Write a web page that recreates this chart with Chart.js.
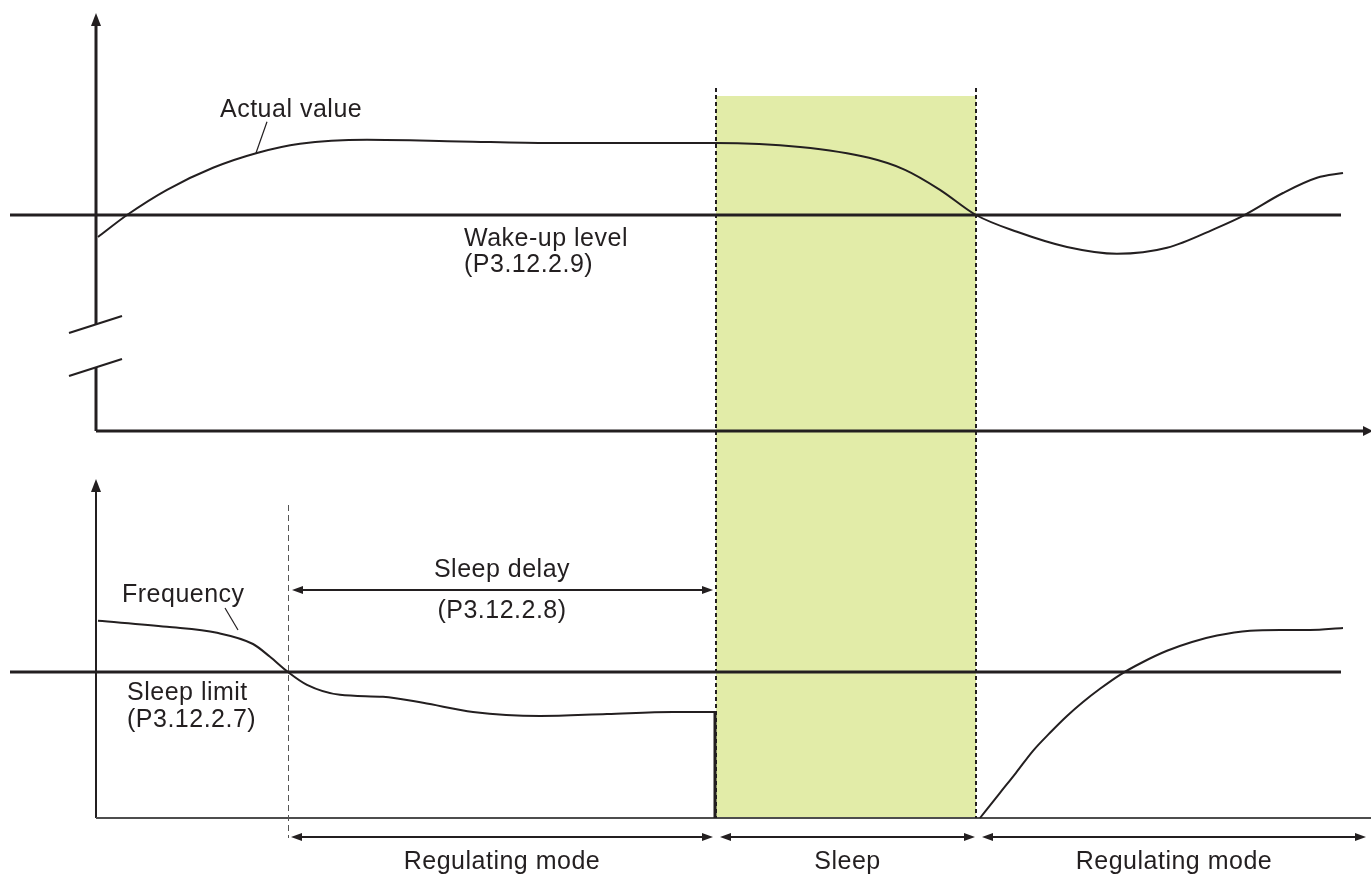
<!DOCTYPE html>
<html>
<head>
<meta charset="utf-8">
<script src="https://cdn.jsdelivr.net/npm/chart.js@4"></script>
<style>
  html, body { margin: 0; padding: 0; background: #fff; }
  #wrap { width: 1371px; height: 875px; }
</style>
</head>
<body>
<div id="wrap"><canvas id="sleepChart" width="1371" height="875"></canvas></div>
<script>
// time in s, actual value in %, frequency in Hz
const actualTime  = [0.2, 3.1, 7.1, 11.7, 16.1, 20.4, 27.1, 36.4, 45.4, 54.4, 61.9, 70.4, 77.3, 80.9, 84.4, 88.0, 92.1, 97.1, 102.1, 107.1, 112.1, 114.7, 118.7, 122.1, 124.7];
const actualValue = [48.5, 54.0, 60.3, 65.8, 69.5, 71.8, 72.8, 72.4, 72.0, 72.0, 72.0, 71.0, 68.3, 65.3, 60.3, 54.0, 49.8, 46.0, 44.3, 45.8, 50.8, 53.8, 59.5, 63.3, 64.5];

const freqTimeBefore  = [0.2, 7.1, 12.1, 15.7, 17.4, 19.2, 21.1, 24.4, 28.7, 32.7, 37.7, 44.4, 51.1, 57.7, 61.9];
const freqValueBefore = [49.3, 47.8, 46.3, 43.5, 40.3, 36.5, 33.3, 30.8, 30.3, 28.8, 26.5, 25.5, 26.0, 26.5, 26.5];
const freqTimeAfter   = [88.4, 90.4, 92.0, 93.7, 95.4, 97.1, 98.7, 100.4, 102.4, 104.7, 107.1, 109.6, 112.1, 115.4, 118.4, 121.4, 124.7];
const freqValueAfter  = [0, 6.3, 11.3, 16.8, 21.3, 25.5, 29.0, 32.3, 35.8, 39.0, 41.8, 44.0, 45.6, 46.8, 47.0, 47.0, 47.5];

const wakeUpLevel = 54;      // P3.12.2.9
const sleepLimit = 36.5;     // P3.12.2.7
const sleepLimitTime = 19.2; // frequency drops below sleep limit
const sleepStart = 62;       // sleep delay (P3.12.2.8) elapsed
const wakeTime = 88;         // actual value drops below wake-up level
const levelFrom = -8.6;
const levelTo = 124.5;

const modeLabels = ['Regulating mode', 'Sleep', 'Regulating mode'];

const INK = '#231f20';
const FONT = '25px "Liberation Sans", Arial, sans-serif';

function pts(xs, ys) {
    return xs.map((x, i) => ({ x: x, y: ys[i] }));
}

function lineSet(data, axis, width, smooth) {
    return {
        data: data,
        yAxisID: axis,
        borderColor: INK,
        borderWidth: width,
        pointRadius: 0,
        fill: false,
        tension: 0,
        cubicInterpolationMode: smooth ? 'monotone' : 'default'
    };
}

// small filled arrow head, tip at (x, y)
function head(ctx, x, y, dir, len, half) {
    len = len || 11; half = half || 4;
    ctx.beginPath();
    ctx.moveTo(x, y);
    if (dir === 'left')  { ctx.lineTo(x + len, y - half); ctx.lineTo(x + len, y + half); }
    if (dir === 'right') { ctx.lineTo(x - len, y - half); ctx.lineTo(x - len, y + half); }
    if (dir === 'up')    { ctx.lineTo(x - half, y + len); ctx.lineTo(x + half, y + len); }
    ctx.closePath();
    ctx.fill();
}

function seg(ctx, x1, y1, x2, y2) {
    ctx.beginPath();
    ctx.moveTo(x1, y1);
    ctx.lineTo(x2, y2);
    ctx.stroke();
}

function doubleArrow(ctx, x1, x2, y) {
    ctx.lineWidth = 2;
    seg(ctx, x1 + 6, y, x2 - 6, y);
    head(ctx, x1, y, 'left');
    head(ctx, x2, y, 'right');
}

const diagram = {
    id: 'diagram',
    beforeDatasetsDraw(chart) {
        const ctx = chart.ctx;
        const x = chart.scales.x, ya = chart.scales.yA, yf = chart.scales.yF;
        const x0 = x.getPixelForValue(0);
        ctx.save();

        // sleep period
        ctx.fillStyle = '#e2eca8';
        ctx.fillRect(x.getPixelForValue(sleepStart), ya.getPixelForValue(83.75),
            x.getPixelForValue(wakeTime) - x.getPixelForValue(sleepStart),
            yf.getPixelForValue(0) - ya.getPixelForValue(83.75));

        ctx.strokeStyle = INK;
        ctx.fillStyle = INK;

        // upper panel axes (with break)
        ctx.lineWidth = 3;
        const top0 = ya.getPixelForValue(0);
        seg(ctx, x0, ya.getPixelForValue(102), x0, ya.getPixelForValue(26.75));
        seg(ctx, x0, ya.getPixelForValue(16), x0, top0);
        head(ctx, x0, ya.getPixelForValue(104.5), 'up', 13, 5);
        seg(ctx, x0, top0, chart.chartArea.right - 6, top0);
        head(ctx, chart.chartArea.right + 2, top0, 'right', 10, 5);
        ctx.lineWidth = 2.2;
        const b1 = ya.getPixelForValue(26.75), b2 = ya.getPixelForValue(16);
        seg(ctx, x0 - 27, b1 + 9, x0 + 26, b1 - 8);
        seg(ctx, x0 - 27, b2 + 9, x0 + 26, b2 - 8);

        // lower panel axes
        ctx.lineWidth = 2;
        const bot0 = yf.getPixelForValue(0);
        seg(ctx, x0, yf.getPixelForValue(83), x0, bot0);
        head(ctx, x0, yf.getPixelForValue(84.75), 'up', 13, 5);
        ctx.strokeStyle = '#4d4d4d';
        seg(ctx, x0, bot0, chart.chartArea.right, bot0);

        // sleep limit reached marker
        ctx.strokeStyle = '#555';
        ctx.lineWidth = 1;
        ctx.setLineDash([6, 4]);
        const xs = x.getPixelForValue(sleepLimitTime) + 0.5;
        seg(ctx, xs, yf.getPixelForValue(78.25), xs, yf.getPixelForValue(-5));

        // sleep start / wake dashed lines
        ctx.strokeStyle = INK;
        ctx.lineWidth = 2;
        ctx.setLineDash([4, 3]);
        [sleepStart, wakeTime].forEach(t => {
            const px = x.getPixelForValue(t);
            seg(ctx, px, ya.getPixelForValue(85.75), px, bot0);
        });
        ctx.restore();
    },
    afterDatasetsDraw(chart) {
        const ctx = chart.ctx;
        const x = chart.scales.x, ya = chart.scales.yA, yf = chart.scales.yF;
        ctx.save();
        ctx.fillStyle = INK;
        ctx.strokeStyle = INK;
        ctx.font = FONT;
        ctx.letterSpacing = '0.5px';
        ctx.textBaseline = 'alphabetic';

        // upper panel labels
        ctx.textAlign = 'left';
        ctx.fillText('Actual value', x.getPixelForValue(12.4), ya.getPixelForValue(78.5));
        ctx.lineWidth = 1.2;
        seg(ctx, x.getPixelForValue(17.1), ya.getPixelForValue(77.3), x.getPixelForValue(16.0), ya.getPixelForValue(69.5));
        const wy = ya.getPixelForValue(wakeUpLevel);
        ctx.fillText('Wake-up level', x.getPixelForValue(36.8), wy + 31);
        ctx.fillText('(P3.12.2.9)', x.getPixelForValue(36.8), wy + 57);

        // lower panel labels
        ctx.fillText('Frequency', x.getPixelForValue(2.6), yf.getPixelForValue(54));
        seg(ctx, x.getPixelForValue(12.9), yf.getPixelForValue(52.5), x.getPixelForValue(14.2), yf.getPixelForValue(47));
        const sy = yf.getPixelForValue(sleepLimit);
        ctx.fillText('Sleep limit', x.getPixelForValue(3.1), sy + 28);
        ctx.fillText('(P3.12.2.7)', x.getPixelForValue(3.1), sy + 55);

        const xl = x.getPixelForValue(sleepLimitTime);
        const xs = x.getPixelForValue(sleepStart);
        const xw = x.getPixelForValue(wakeTime);
        const da = yf.getPixelForValue(57);
        doubleArrow(ctx, xl + 4, xs - 3, da);
        ctx.textAlign = 'center';
        ctx.fillText('Sleep delay', (xl + xs) / 2, da - 13);
        ctx.fillText('(P3.12.2.8)', (xl + xs) / 2, da + 28);

        // mode arrows along the bottom
        const ma = yf.getPixelForValue(-4.75);
        const spans = [[xl + 3, xs - 3], [xs + 4, xw - 1], [xw + 6, chart.chartArea.right - 5]];
        spans.forEach((s, i) => {
            doubleArrow(ctx, s[0], s[1], ma);
            ctx.fillText(modeLabels[i], (s[0] + s[1]) / 2, ma + 32);
        });
        ctx.restore();
    }
};

const freqDrop = [{ x: freqTimeBefore[freqTimeBefore.length - 1], y: freqValueBefore[freqValueBefore.length - 1] },
                  { x: freqTimeBefore[freqTimeBefore.length - 1], y: 0 }];

new Chart(document.getElementById('sleepChart'), {
    type: 'line',
    data: {
        datasets: [
            lineSet([{ x: levelFrom, y: wakeUpLevel }, { x: levelTo, y: wakeUpLevel }], 'yA', 3),
            lineSet([{ x: levelFrom, y: sleepLimit }, { x: levelTo, y: sleepLimit }], 'yF', 3),
            lineSet(pts(actualTime, actualValue), 'yA', 2, true),
            lineSet(pts(freqTimeBefore, freqValueBefore), 'yF', 2, true),
            lineSet(freqDrop, 'yF', 3),
            lineSet(pts(freqTimeAfter, freqValueAfter), 'yF', 2, true)
        ]
    },
    options: {
        responsive: false,
        animation: false,
        layout: { padding: 0 },
        plugins: { legend: { display: false }, tooltip: { enabled: false } },
        scales: {
            x:  { type: 'linear', min: -9.6, max: 127.5, display: false },
            yA: { type: 'linear', min: -111, max: 107.75, display: false },
            yF: { type: 'linear', min: -14.25, max: 204.5, display: false }
        }
    },
    plugins: [diagram]
});
</script>
</body>
</html>
